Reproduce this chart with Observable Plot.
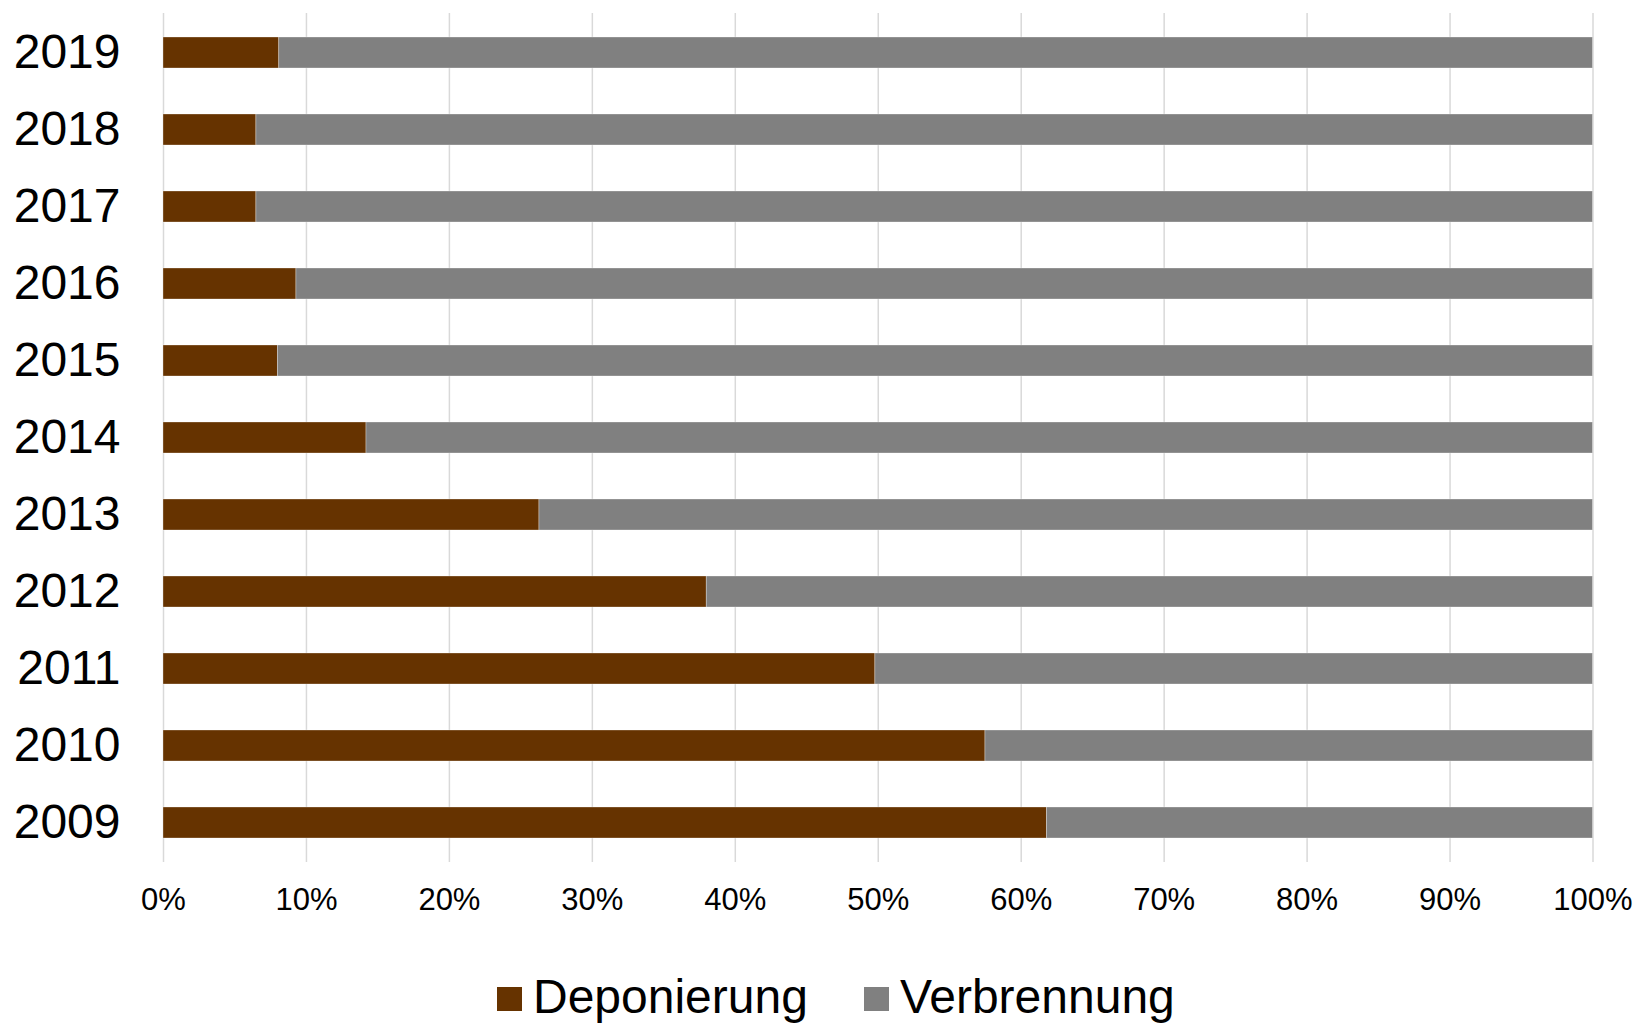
<!DOCTYPE html>
<html>
<head>
<meta charset="utf-8">
<script src="https://cdn.jsdelivr.net/npm/d3@7"></script>
<script src="https://cdn.jsdelivr.net/npm/@observablehq/plot@0.6"></script>
<style>
  html, body { margin: 0; padding: 0; background: #fff; }
  #wrap { position: relative; width: 1638px; height: 1023px; overflow: hidden; font-family: "Liberation Sans", Arial, sans-serif; }
  #legend { position: absolute; left: 497px; top: 973px; display: flex; font-size: 48px; line-height: 47px; color: #000; white-space: nowrap; }
  .item { display: inline-block; margin-right: 56px; }
  .sw { display: inline-block; width: 25px; height: 24px; margin-right: 11px; vertical-align: 2px; }
</style>
</head>
<body>
<div id="wrap">
  <div id="chart"></div>
  <div id="legend"></div>
</div>
<script>
const years = ["2019", "2018", "2017", "2016", "2015", "2014", "2013", "2012", "2011", "2010", "2009"];
const seriesNames = ["Deponierung", "Verbrennung"];
const seriesColors = ["#663300", "#808080"];
const deponierung = [8.1, 6.5, 6.5, 9.3, 8.0, 14.2, 26.3, 38.0, 49.8, 57.5, 61.8];
const verbrennung = [91.9, 93.5, 93.5, 90.7, 92.0, 85.8, 73.7, 62.0, 50.2, 42.5, 38.2];
const xTicks = [0, 0.1, 0.2, 0.3, 0.4, 0.5, 0.6, 0.7, 0.8, 0.9, 1];

const data = [];
years.forEach((y, i) => {
  data.push({year: y, series: seriesNames[0], value: deponierung[i]});
  data.push({year: y, series: seriesNames[1], value: verbrennung[i]});
});

const chart = Plot.plot({
  width: 1638,
  height: 940,
  marginLeft: 163,
  marginRight: 45.5,
  marginTop: 13,
  marginBottom: 78,
  style: {fontFamily: "Liberation Sans, Arial, sans-serif", background: "#fff", color: "#000"},
  x: {domain: [0, 1]},
  y: {type: "band", domain: years, paddingInner: 0.6, paddingOuter: 0.3},
  color: {domain: seriesNames, range: seriesColors},
  marks: [
    Plot.gridX(xTicks, {stroke: "#d9d9d9", strokeOpacity: 1, strokeWidth: 1.5}),
    Plot.barX(data, Plot.stackX({
      x: "value", y: "year", fill: "series", z: "series",
      order: seriesNames, offset: "normalize",
      stroke: "#ffffff", strokeWidth: 0.6, strokeOpacity: 0.5
    })),
    Plot.axisX({ticks: xTicks, tickFormat: d3.format(".0%"), tickSize: 0, tickPadding: 25, fontSize: 31, label: null}),
    Plot.axisY({tickSize: 0, tickPadding: 43, fontSize: 48, label: null})
  ]
});
document.getElementById("chart").appendChild(chart);

const legend = document.getElementById("legend");
seriesNames.forEach((name, i) => {
  const item = document.createElement("span");
  item.className = "item";
  const sw = document.createElement("span");
  sw.className = "sw";
  sw.style.background = seriesColors[i];
  item.appendChild(sw);
  item.appendChild(document.createTextNode(name));
  legend.appendChild(item);
});
</script>
</body>
</html>
